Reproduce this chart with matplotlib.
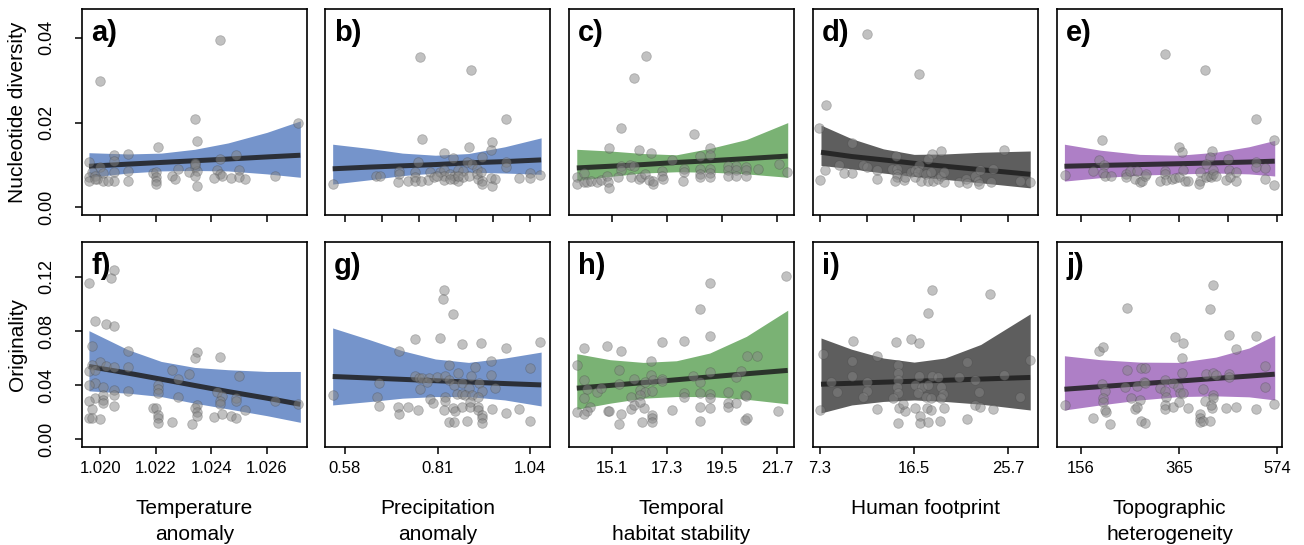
import numpy as np
import matplotlib
matplotlib.use("Agg")
import matplotlib.pyplot as plt

plt.rcParams['font.family'] = ['Liberation Sans Narrow', 'Liberation Sans', 'DejaVu Sans']

# ---------------- data ----------------
# a) temperature anomaly vs nucleotide diversity
a_x = [1.0243, 1.0200, 1.0234, 1.0271, 1.0235, 1.0221, 1.0210, 1.0205, 1.0205, 1.0196,
       1.0249, 1.0243, 1.0234, 1.0234, 1.0200, 1.0228, 1.0250, 1.0210, 1.0205, 1.0201,
       1.0197, 1.0219, 1.0220, 1.0232, 1.0235, 1.0242, 1.0234, 1.0226, 1.0220, 1.0243,
       1.0244, 1.0247, 1.0250, 1.0252, 1.0263, 1.0241, 1.0196, 1.0198, 1.0196, 1.0201,
       1.0205, 1.0210, 1.0220, 1.0220, 1.0227, 1.0235, 1.0203, 1.0199, 1.0234, 1.0198]
a_y = [0.0394, 0.0299, 0.0208, 0.0198, 0.0157, 0.0142, 0.0127, 0.0124, 0.0109, 0.0107,
       0.0124, 0.0114, 0.0105, 0.0095, 0.0095, 0.0091, 0.0089, 0.0086, 0.0083, 0.0081,
       0.0083, 0.0081, 0.0083, 0.0083, 0.0086, 0.0087, 0.0075, 0.0075, 0.0071, 0.0078,
       0.0073, 0.0070, 0.0071, 0.0067, 0.0075, 0.0069, 0.0071, 0.0075, 0.0063, 0.0063,
       0.0063, 0.0063, 0.0062, 0.0055, 0.0066, 0.0051, 0.0063, 0.0067, 0.0103, 0.0066]
a_band_x = [1.0196, 1.0210, 1.0222, 1.0234, 1.0246, 1.0260, 1.0272]
a_lo = [0.0071, 0.0081, 0.0086, 0.0087, 0.0086, 0.0079, 0.0071]
a_hi = [0.0129, 0.0126, 0.0128, 0.0137, 0.0152, 0.0177, 0.0204]
a_fit = [0.0097, 0.0102, 0.0106, 0.0110, 0.0114, 0.0119, 0.0123]

# f) temperature anomaly vs originality
f_x = [1.0196, 1.0204, 1.0205, 1.0198, 1.0202, 1.0205, 1.0197, 1.0210, 1.0235, 1.0234,
       1.0243, 1.0200, 1.0197, 1.0202, 1.0205, 1.0210, 1.0196, 1.0198, 1.0226, 1.0228,
       1.0232, 1.0250, 1.0198, 1.0196, 1.0201, 1.0205, 1.0210, 1.0221, 1.0221, 1.0221,
       1.0242, 1.0244, 1.0249, 1.0263, 1.0271, 1.0198, 1.0196, 1.0201, 1.0201, 1.0201,
       1.0205, 1.0205, 1.0228, 1.0235, 1.0243, 1.0249, 1.0252, 1.0219, 1.0220, 1.0221,
       1.0221, 1.0221, 1.0234, 1.0235, 1.0235, 1.0197, 1.0196, 1.0197, 1.0200, 1.0226,
       1.0233, 1.0241, 1.0244, 1.0247, 1.0249, 1.0243]
f_y = [0.1151, 0.1188, 0.1249, 0.0872, 0.0854, 0.0835, 0.0686, 0.0649, 0.0642, 0.0600,
       0.0605, 0.0570, 0.0551, 0.0538, 0.0533, 0.0531, 0.0501, 0.0514, 0.0514, 0.0447,
       0.0481, 0.0464, 0.0417, 0.0398, 0.0390, 0.0365, 0.0360, 0.0398, 0.0373, 0.0341,
       0.0353, 0.0323, 0.0309, 0.0286, 0.0262, 0.0309, 0.0286, 0.0328, 0.0291, 0.0267,
       0.0328, 0.0247, 0.0316, 0.0254, 0.0284, 0.0284, 0.0217, 0.0235, 0.0235, 0.0180,
       0.0156, 0.0123, 0.0230, 0.0200, 0.0175, 0.0225, 0.0160, 0.0160, 0.0151, 0.0131,
       0.0114, 0.0168, 0.0185, 0.0173, 0.0156, 0.0259]
f_band_x = a_band_x
f_lo = [0.0358, 0.0341, 0.0316, 0.0267, 0.0225, 0.0175, 0.0126]
f_hi = [0.0802, 0.0662, 0.0575, 0.0531, 0.0514, 0.0501, 0.0501]
f_fit = [0.0538, 0.0489, 0.0444, 0.0398, 0.0353, 0.0304, 0.0259]

# b) precipitation anomaly vs nucleotide diversity
b_x = [0.766, 0.893, 0.979, 0.772, 0.944, 0.889, 0.827, 0.943, 0.848, 0.920,
       0.762, 0.884, 0.895, 0.979, 0.979, 0.551, 0.658, 0.668, 0.715, 0.715,
       0.713, 0.737, 0.754, 0.754, 0.754, 0.791, 0.787, 0.801, 0.817, 0.827,
       0.827, 0.827, 0.842, 0.850, 0.850, 0.861, 0.861, 0.872, 0.872, 0.889,
       0.907, 0.907, 0.910, 0.918, 0.920, 0.920, 0.943, 0.944, 0.952, 1.012,
       1.040, 1.040, 1.065, 0.842, 0.861, 0.809, 0.768]
b_y = [0.0354, 0.0323, 0.0208, 0.0162, 0.0155, 0.0143, 0.0128, 0.0135, 0.0116, 0.0119,
       0.0108, 0.0108, 0.0103, 0.0107, 0.0095, 0.0054, 0.0075, 0.0073, 0.0086, 0.0079,
       0.0059, 0.0062, 0.0083, 0.0071, 0.0063, 0.0084, 0.0065, 0.0071, 0.0083, 0.0087,
       0.0075, 0.0065, 0.0079, 0.0075, 0.0067, 0.0087, 0.0063, 0.0086, 0.0071, 0.0075,
       0.0091, 0.0079, 0.0067, 0.0083, 0.0063, 0.0055, 0.0070, 0.0051, 0.0067, 0.0070,
       0.0081, 0.0070, 0.0077, 0.0067, 0.0075, 0.0075, 0.0063]
b_band_x = [0.550, 0.641, 0.723, 0.805, 0.887, 0.977, 1.067]
b_lo = [0.0055, 0.0065, 0.0075, 0.0081, 0.0083, 0.0081, 0.0078]
b_hi = [0.0149, 0.0139, 0.0128, 0.0123, 0.0127, 0.0143, 0.0164]
b_fit = [0.0091, 0.0095, 0.0098, 0.0101, 0.0105, 0.0108, 0.0112]

# g) precipitation anomaly vs originality
g_x = [0.827, 0.824, 0.848, 0.754, 0.817, 0.871, 0.918, 0.979, 1.065, 0.715,
       0.943, 0.838, 0.903, 1.040, 0.861, 0.943, 0.754, 0.764, 0.772, 0.789,
       0.809, 0.828, 0.893, 0.666, 0.838, 0.850, 0.871, 0.913, 0.766, 0.785,
       0.952, 0.889, 0.920, 0.551, 0.659, 0.828, 0.828, 0.858, 0.871, 0.879,
       0.895, 0.910, 0.791, 0.799, 0.666, 0.713, 0.737, 0.761, 0.715, 0.827,
       0.848, 0.854, 0.871, 0.891, 0.891, 0.910, 0.911, 0.920, 0.920, 0.920,
       0.944, 0.979, 1.012, 1.040, 0.838, 0.850, 0.884]
g_y = [0.1099, 0.1039, 0.0928, 0.0741, 0.0748, 0.0706, 0.0711, 0.0674, 0.0716, 0.0649,
       0.0580, 0.0551, 0.0533, 0.0526, 0.0489, 0.0477, 0.0464, 0.0452, 0.0452, 0.0452,
       0.0457, 0.0464, 0.0464, 0.0415, 0.0440, 0.0402, 0.0415, 0.0415, 0.0373, 0.0427,
       0.0378, 0.0378, 0.0360, 0.0328, 0.0311, 0.0316, 0.0286, 0.0333, 0.0333, 0.0328,
       0.0328, 0.0316, 0.0299, 0.0267, 0.0247, 0.0237, 0.0237, 0.0217, 0.0185, 0.0217,
       0.0230, 0.0212, 0.0242, 0.0279, 0.0237, 0.0242, 0.0217, 0.0180, 0.0156, 0.0123,
       0.0225, 0.0198, 0.0225, 0.0136, 0.0131, 0.0131, 0.0136]
g_band_x = b_band_x
g_lo = [0.0254, 0.0279, 0.0304, 0.0316, 0.0316, 0.0291, 0.0247]
g_hi = [0.0822, 0.0736, 0.0654, 0.0593, 0.0568, 0.0600, 0.0644]
g_fit = [0.0464, 0.0453, 0.0443, 0.0433, 0.0423, 0.0412, 0.0402]

# c) temporal habitat stability vs nucleotide diversity
c_x = [16.45, 16.01, 15.48, 18.37, 15.01, 16.20, 16.66, 19.01, 19.01, 18.64,
       17.51, 21.77, 15.47, 15.47, 15.83, 15.99, 17.99, 17.99, 18.61, 18.61,
       18.61, 19.01, 19.01, 19.01, 19.74, 19.74, 19.74, 20.07, 20.07, 20.07,
       20.47, 20.47, 20.47, 20.93, 22.08, 13.71, 13.71, 14.00, 14.00, 14.13,
       14.27, 14.53, 14.66, 14.90, 14.94, 15.01, 15.37, 15.86, 16.19, 16.29,
       16.43, 16.60, 16.73, 16.73, 17.09, 17.09, 17.13, 17.95]
c_y = [0.0356, 0.0305, 0.0188, 0.0173, 0.0139, 0.0136, 0.0128, 0.0139, 0.0123, 0.0121,
       0.0112, 0.0103, 0.0097, 0.0089, 0.0101, 0.0097, 0.0091, 0.0083, 0.0091, 0.0079,
       0.0071, 0.0091, 0.0081, 0.0071, 0.0097, 0.0087, 0.0075, 0.0097, 0.0087, 0.0075,
       0.0095, 0.0087, 0.0075, 0.0091, 0.0083, 0.0071, 0.0055, 0.0081, 0.0059, 0.0061,
       0.0063, 0.0059, 0.0065, 0.0075, 0.0059, 0.0046, 0.0071, 0.0071, 0.0067, 0.0071,
       0.0079, 0.0065, 0.0055, 0.0063, 0.0086, 0.0075, 0.0067, 0.0062]
c_band_x = [13.71, 15.03, 16.36, 17.68, 19.01, 20.47, 22.12]
c_lo = [0.0063, 0.0073, 0.0081, 0.0084, 0.0083, 0.0079, 0.0071]
c_hi = [0.0137, 0.0133, 0.0127, 0.0124, 0.0139, 0.0160, 0.0200]
c_fit = [0.0093, 0.0097, 0.0101, 0.0106, 0.0110, 0.0115, 0.0121]

# h) temporal habitat stability vs originality
h_x = [22.06, 19.01, 18.64, 19.04, 17.09, 17.99, 14.00, 14.90, 15.47, 16.66,
       13.71, 20.51, 20.90, 15.39, 19.01, 20.27, 16.65, 14.00, 14.13, 14.53,
       14.66, 15.39, 16.00, 16.43, 16.76, 17.09, 18.35, 18.64, 20.04, 16.23,
       16.43, 16.72, 17.09, 14.00, 15.86, 16.23, 17.99, 17.99, 18.61, 19.01,
       19.01, 19.74, 20.40, 20.47, 14.24, 14.11, 13.71, 14.00, 14.97, 15.01,
       15.47, 15.39, 15.86, 15.99, 16.40, 16.33, 16.72, 16.72, 16.72, 17.51,
       18.64, 19.01, 18.64, 19.74, 19.74, 20.07, 20.40, 20.51, 21.73, 16.23]
h_y = [0.1205, 0.1151, 0.0965, 0.0765, 0.0718, 0.0723, 0.0674, 0.0686, 0.0649, 0.0580,
       0.0551, 0.0612, 0.0612, 0.0514, 0.0496, 0.0501, 0.0477, 0.0435, 0.0373, 0.0348,
       0.0378, 0.0407, 0.0447, 0.0427, 0.0440, 0.0447, 0.0464, 0.0422, 0.0459, 0.0365,
       0.0353, 0.0358, 0.0432, 0.0304, 0.0316, 0.0328, 0.0341, 0.0311, 0.0341, 0.0336,
       0.0304, 0.0353, 0.0328, 0.0321, 0.0242, 0.0210, 0.0200, 0.0188, 0.0212, 0.0210,
       0.0188, 0.0114, 0.0225, 0.0254, 0.0230, 0.0131, 0.0180, 0.0160, 0.0126, 0.0217,
       0.0237, 0.0230, 0.0136, 0.0272, 0.0242, 0.0267, 0.0143, 0.0160, 0.0210, 0.0279]
h_band_x = c_band_x
h_lo = [0.0222, 0.0267, 0.0304, 0.0316, 0.0316, 0.0296, 0.0262]
h_hi = [0.0632, 0.0588, 0.0568, 0.0580, 0.0637, 0.0760, 0.0953]
h_fit = [0.0378, 0.0398, 0.0419, 0.0440, 0.0461, 0.0484, 0.0509]

# d) human footprint vs nucleotide diversity
d_x = [11.93, 16.99, 10.41, 19.09, 18.28, 25.31, 14.69, 17.86, 16.99, 11.48,
       11.93, 12.90, 12.90, 14.36, 14.78, 14.78, 14.78, 14.62, 15.50, 15.59,
       16.24, 16.56, 16.56, 16.89, 17.21, 17.70, 17.86, 18.18, 18.35, 18.83,
       19.16, 19.42, 19.42, 20.87, 21.59, 21.65, 22.40, 22.72, 22.88, 22.95,
       24.02, 24.18, 26.87, 27.84, 10.41, 7.2, 7.9, 7.3, 7.8, 9.2, 9.6]
d_y = [0.0409, 0.0315, 0.0152, 0.0133, 0.0125, 0.0135, 0.0121, 0.0113, 0.0099, 0.0099,
       0.0095, 0.0087, 0.0067, 0.0091, 0.0091, 0.0079, 0.0071, 0.0063, 0.0065, 0.0071,
       0.0083, 0.0087, 0.0071, 0.0083, 0.0063, 0.0079, 0.0063, 0.0083, 0.0063, 0.0067,
       0.0075, 0.0083, 0.0061, 0.0059, 0.0067, 0.0057, 0.0075, 0.0063, 0.0055, 0.0089,
       0.0061, 0.0091, 0.0063, 0.0061, 0.0081, 0.0187, 0.0241, 0.0064, 0.0088, 0.0099, 0.0080]
d_band_x = [7.4, 10.4, 13.5, 16.5, 19.5, 23.0, 27.84]
d_lo = [0.0099, 0.0091, 0.0081, 0.0073, 0.0066, 0.0058, 0.0046]
d_hi = [0.0194, 0.0162, 0.0138, 0.0125, 0.0126, 0.0130, 0.0133]
d_fit = [0.0130, 0.0120, 0.0112, 0.0104, 0.0097, 0.0089, 0.0078]

# i) human footprint vs originality
i_x = [18.28, 23.95, 17.86, 10.57, 14.69, 16.24, 16.99, 12.90, 10.41, 14.88,
       14.88, 14.88, 14.78, 14.88, 10.41, 21.65, 27.84, 25.31, 16.99, 18.28,
       18.83, 20.87, 22.49, 11.93, 11.93, 11.48, 14.46, 16.56, 17.31, 17.86,
       19.09, 19.32, 19.16, 16.92, 17.70, 18.18, 22.88, 26.87, 12.90, 15.01,
       15.59, 15.43, 16.56, 17.11, 17.11, 17.79, 18.18, 17.82, 14.88, 18.99,
       19.39, 21.65, 22.49, 22.95, 24.18, 7.3, 7.6, 8.4, 9.0]
i_y = [0.1101, 0.1074, 0.0933, 0.0728, 0.0716, 0.0743, 0.0711, 0.0612, 0.0575, 0.0551,
       0.0489, 0.0440, 0.0390, 0.0341, 0.0469, 0.0568, 0.0583, 0.0472, 0.0469, 0.0464,
       0.0459, 0.0459, 0.0435, 0.0427, 0.0358, 0.0316, 0.0304, 0.0402, 0.0383, 0.0402,
       0.0390, 0.0333, 0.0304, 0.0341, 0.0316, 0.0309, 0.0346, 0.0316, 0.0222, 0.0230,
       0.0210, 0.0259, 0.0235, 0.0175, 0.0118, 0.0230, 0.0217, 0.0126, 0.0123, 0.0136,
       0.0230, 0.0148, 0.0254, 0.0242, 0.0222, 0.0220, 0.0630, 0.0420, 0.0350]
i_band_x = d_band_x
i_lo = [0.0195, 0.0254, 0.0280, 0.0291, 0.0280, 0.0260, 0.0217]
i_hi = [0.0748, 0.0665, 0.0600, 0.0570, 0.0600, 0.0700, 0.0926]
i_fit = [0.0407, 0.0414, 0.0422, 0.0429, 0.0436, 0.0445, 0.0457]

# e) topographic heterogeneity vs nucleotide diversity
e_x = [334.3, 421.0, 528.2, 201.8, 566.9, 366.1, 371.7, 435.1, 430.9, 195.5,
       205.3, 469.7, 529.6, 529.6, 549.3, 422.5, 181.4, 203.9, 207.5, 219.4,
       121.5, 251.9, 251.9, 260.3, 270.9, 275.8, 281.5, 287.1, 292.0, 294.2,
       323.8, 334.3, 334.3, 336.5, 350.6, 355.5, 366.1, 373.1, 378.7, 383.7,
       409.8, 409.8, 408.4, 422.5, 428.1, 433.0, 436.5, 436.5, 443.6, 466.2,
       471.8, 473.2, 487.3, 487.3, 549.3, 566.9]
e_y = [0.0363, 0.0323, 0.0208, 0.0160, 0.0158, 0.0143, 0.0131, 0.0133, 0.0119, 0.0111,
       0.0101, 0.0115, 0.0107, 0.0095, 0.0093, 0.0103, 0.0086, 0.0081, 0.0075, 0.0075,
       0.0077, 0.0078, 0.0071, 0.0086, 0.0066, 0.0086, 0.0059, 0.0063, 0.0075, 0.0079,
       0.0063, 0.0086, 0.0079, 0.0065, 0.0067, 0.0070, 0.0071, 0.0087, 0.0063, 0.0063,
       0.0083, 0.0063, 0.0055, 0.0071, 0.0075, 0.0071, 0.0079, 0.0087, 0.0075, 0.0065,
       0.0087, 0.0071, 0.0083, 0.0063, 0.0067, 0.0053]
e_band_x = [120.8, 196.9, 281.5, 364.7, 443.6, 514.1, 569.1]
e_lo = [0.0062, 0.0070, 0.0076, 0.0079, 0.0081, 0.0079, 0.0074]
e_hi = [0.0149, 0.0135, 0.0125, 0.0123, 0.0130, 0.0143, 0.0158]
e_fit = [0.0097, 0.0099, 0.0101, 0.0103, 0.0105, 0.0107, 0.0109]

# j) topographic heterogeneity vs originality
j_x = [436.5, 431.6, 253.3, 471.8, 529.6, 356.9, 374.5, 194.8, 203.9, 487.3,
       371.7, 549.3, 253.3, 285.0, 293.5, 371.7, 422.5, 436.5, 443.6, 471.8,
       471.8, 200.4, 207.5, 249.8, 275.8, 289.9, 292.0, 334.3, 352.0, 362.5,
       367.5, 373.1, 323.8, 334.3, 336.5, 416.8, 436.5, 436.5, 435.1, 549.3,
       566.9, 262.4, 281.5, 203.9, 203.9, 207.5, 209.6, 270.9, 275.8, 334.3,
       334.3, 352.0, 366.1, 383.7, 421.0, 433.0, 466.2, 487.3, 529.6, 121.5,
       181.4, 218.0, 285.0, 293.5, 409.8, 409.8, 409.8, 416.8, 431.6]
j_y = [0.1138, 0.0965, 0.0970, 0.0768, 0.0765, 0.0753, 0.0711, 0.0654, 0.0679, 0.0669,
       0.0600, 0.0543, 0.0509, 0.0526, 0.0526, 0.0489, 0.0484, 0.0489, 0.0477, 0.0484,
       0.0459, 0.0408, 0.0360, 0.0385, 0.0395, 0.0422, 0.0415, 0.0435, 0.0415, 0.0383,
       0.0341, 0.0341, 0.0378, 0.0358, 0.0311, 0.0373, 0.0328, 0.0304, 0.0230, 0.0383,
       0.0259, 0.0309, 0.0291, 0.0304, 0.0274, 0.0217, 0.0205, 0.0222, 0.0242, 0.0254,
       0.0222, 0.0237, 0.0279, 0.0230, 0.0286, 0.0254, 0.0230, 0.0242, 0.0225, 0.0254,
       0.0160, 0.0111, 0.0136, 0.0119, 0.0185, 0.0160, 0.0131, 0.0138, 0.0136]
j_band_x = e_band_x
j_lo = [0.0217, 0.0254, 0.0291, 0.0316, 0.0321, 0.0314, 0.0291]
j_hi = [0.0617, 0.0588, 0.0570, 0.0568, 0.0607, 0.0674, 0.0768]
j_fit = [0.0370, 0.0389, 0.0410, 0.0430, 0.0450, 0.0467, 0.0481]

# axis settings per column
col_xlim = [(1.01935, 1.02744), (0.531, 1.089), (13.4, 22.37), (6.62, 28.6), (105, 584.6)]
col_top_ticks = [[1.020, 1.022, 1.024, 1.026],
                 list(np.linspace(0.58, 1.04, 6)),
                 [15.1, 17.3, 19.5, 21.7],
                 list(np.linspace(7.3, 25.7, 5)),
                 list(np.linspace(156, 574, 5))]
col_bot_ticks = [[1.020, 1.022, 1.024, 1.026], [0.58, 0.81, 1.04],
                 [15.1, 17.3, 19.5, 21.7], [7.3, 16.5, 25.7], [156, 365, 574]]
col_bot_labels = [['1.020', '1.022', '1.024', '1.026'], ['0.58', '0.81', '1.04'],
                  ['15.1', '17.3', '19.5', '21.7'], ['7.3', '16.5', '25.7'],
                  ['156', '365', '574']]
col_names = ['Temperature\nanomaly', 'Precipitation\nanomaly', 'Temporal\nhabitat stability',
             'Human footprint', 'Topographic\nheterogeneity']
col_colors = ['#7594CB', '#7594CB', '#7AB274', '#5E5E5E', '#AE7FC6']

top_panels = [(a_x, a_y, a_band_x, a_lo, a_hi, a_fit, 'a)'),
              (b_x, b_y, b_band_x, b_lo, b_hi, b_fit, 'b)'),
              (c_x, c_y, c_band_x, c_lo, c_hi, c_fit, 'c)'),
              (d_x, d_y, d_band_x, d_lo, d_hi, d_fit, 'd)'),
              (e_x, e_y, e_band_x, e_lo, e_hi, e_fit, 'e)')]
bot_panels = [(f_x, f_y, f_band_x, f_lo, f_hi, f_fit, 'f)'),
              (g_x, g_y, g_band_x, g_lo, g_hi, g_fit, 'g)'),
              (h_x, h_y, h_band_x, h_lo, h_hi, h_fit, 'h)'),
              (i_x, i_y, i_band_x, i_lo, i_hi, i_fit, 'i)'),
              (j_x, j_y, j_band_x, j_lo, j_hi, j_fit, 'j)')]

W, H = 1304, 545
fig = plt.figure(figsize=(W / 100, H / 100), dpi=100)
lefts = [82, 325, 569, 813, 1057]
pw = 225
reg = ['Liberation Sans', 'DejaVu Sans']


def draw(ax, panel, color):
    x, y, bx, lo, hi, fit, tag = panel
    ax.fill_between(bx, lo, hi, color=color, lw=0, zorder=1)
    ax.plot(bx, fit, color='#1e1e1e', lw=3.6, alpha=0.85, solid_capstyle='butt', zorder=2)
    ax.scatter(x, y, s=48, facecolor=(0.52, 0.52, 0.52, 0.5),
               edgecolor=(0.25, 0.25, 0.25, 0.3), linewidth=0.6, zorder=3)
    ax.text(0.04, 0.95, tag, transform=ax.transAxes, fontsize=21, fontweight='bold',
            family=reg, va='top', ha='left')
    for s in ax.spines.values():
        s.set_linewidth(1.2)
    ax.tick_params(direction='out', length=5, width=1.1, labelsize=12)


for k in range(5):
    # top row
    ax = fig.add_axes([lefts[k] / W, 1 - 215 / H, pw / W, 206 / H])
    draw(ax, top_panels[k], col_colors[k])
    ax.set_xlim(col_xlim[k])
    ax.set_ylim(-0.0018, 0.0468)
    ax.set_xticks(col_top_ticks[k])
    ax.set_xticklabels([])
    if k == 0:
        ax.set_yticks([0.00, 0.02, 0.04])
        ax.set_yticklabels(['0.00', '0.02', '0.04'], rotation=90, va='center',
                           family=reg, fontsize=13)
        ax.tick_params(axis='y', pad=14)
        ax.set_ylabel('Nucleotide diversity', fontsize=15, labelpad=8, family=reg)
    else:
        ax.set_yticks([])

    # bottom row
    ax = fig.add_axes([lefts[k] / W, 1 - 447 / H, pw / W, 205 / H])
    draw(ax, bot_panels[k], col_colors[k])
    ax.set_xlim(col_xlim[k])
    ax.set_ylim(-0.0056, 0.1456)
    ax.set_xticks(col_bot_ticks[k])
    ax.set_xticklabels(col_bot_labels[k])
    ax.tick_params(axis='x', pad=5)
    if k == 0:
        ax.set_yticks([0.00, 0.04, 0.08, 0.12])
        ax.set_yticklabels(['0.00', '0.04', '0.08', '0.12'], rotation=90, va='center',
                           family=reg, fontsize=13)
        ax.tick_params(axis='y', pad=14)
        ax.set_ylabel('Originality', fontsize=15, labelpad=8, family=reg)
    else:
        ax.set_yticks([])
    ax.set_xlabel(col_names[k], fontsize=15, labelpad=17, linespacing=1.45)

fig.savefig('out.png', dpi=100)
